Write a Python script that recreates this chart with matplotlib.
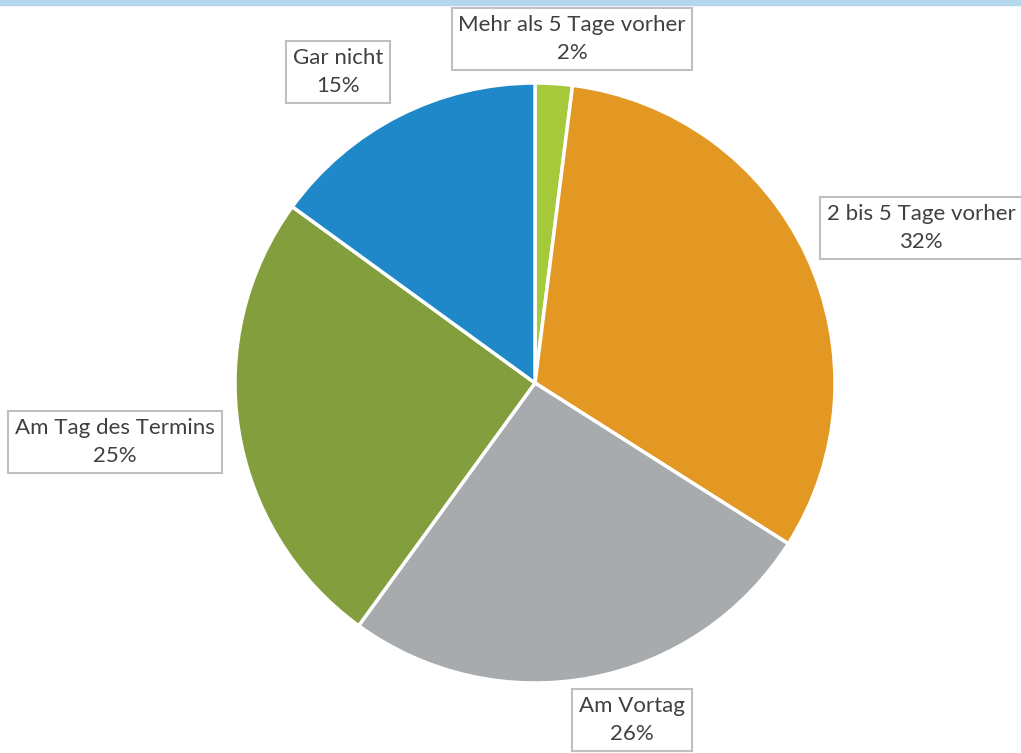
import matplotlib.pyplot as plt
from matplotlib.patches import Rectangle

labels = ['Mehr als 5 Tage vorher', '2 bis 5 Tage vorher', 'Am Vortag',
          'Am Tag des Termins', 'Gar nicht']
values = [2, 32, 26, 25, 15]
colors = ['#a6c93b', '#e39824', '#a7abae', '#839e3c', '#1f88c8']

# label box centres in pixel coordinates (y from bottom)
label_pos = [(572, 714), (921, 525), (632, 33), (115, 311), (338, 681)]

fig = plt.figure(figsize=(10.21, 7.53), dpi=100)
ax = fig.add_axes([0, 0, 1, 1])
ax.axis('off')

ax.add_patch(Rectangle((0, 748), 1021, 5, color='#b4d7ee', zorder=0))

ax.pie(values, colors=colors, startangle=90, counterclock=False,
       center=(535, 370), radius=300,
       wedgeprops=dict(edgecolor='white', linewidth=2.5))
ax.set_xlim(0, 1021)
ax.set_ylim(0, 753)
ax.set_aspect('auto')

for lab, v, (x, y) in zip(labels, values, label_pos):
    ax.text(x, y, f'{lab}\n{v}%', ha='center', va='center',
            fontsize=16, family='Lato', color='#404040', linespacing=1.5,
            bbox=dict(boxstyle='square,pad=0.3', facecolor='white',
                      edgecolor='#bfbfbf', linewidth=1.5))

fig.savefig('out.png', dpi=100)
